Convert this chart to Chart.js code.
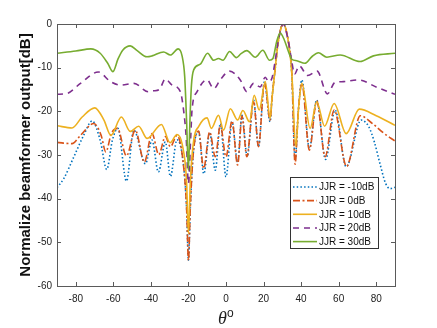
<!DOCTYPE html>
<html><head><meta charset="utf-8">
<script src="https://cdn.jsdelivr.net/npm/chart.js@4.4.1/dist/chart.umd.min.js"></script>
<style>html,body{margin:0;padding:0;background:#fff}</style>
</head><body>
<canvas id="c" width="437" height="328" style="width:437px;height:328px;display:block"></canvas>
<script>
// ---- data (theta in degrees, output in dB) ----
const labels = ['JJR = -10dB','JJR = 0dB','JJR = 10dB','JJR = 20dB','JJR = 30dB'];
const xTicks = [-80,-60,-40,-20,0,20,40,60,80];
const yTicks = [0,-10,-20,-30,-40,-50,-60];

const jjrM10 = [[-90,-37.5],[-86.4,-35.4],[-81,-30.4],[-75.7,-25.4],[-71.3,-22.2],[-67,-26.6],[-63.5,-33.3],[-60.5,-26.6],[-57.6,-23.9],[-53,-36],[-49.1,-24.3],[-42.9,-32],[-39.4,-26.6],[-36,-33.9],[-32.3,-27],[-29.6,-34.9],[-26.1,-26.5],[-23,-31],[-21,-42],[-20,-54.1],[-19,-42],[-17.5,-30],[-14.6,-24.7],[-11.8,-34.3],[-8.7,-24.9],[-5.7,-33.5],[-3,-22.8],[0,-35],[3.2,-22.4],[6.2,-31.6],[8.5,-20.9],[11.3,-30.4],[14.7,-17.4],[17.3,-28.1],[20.5,-13.2],[23.5,-22.4],[24.5,-17],[26,-11],[28,-3.5],[30.5,0],[33,-3.5],[35,-11],[36.8,-31],[38.5,-20],[40.4,-12.8],[44.4,-28.5],[48.3,-17.4],[53,-31],[58.1,-19.7],[64,-32.7],[72,-22],[76,-23.5],[79,-27],[82,-32],[85,-36.5],[87.5,-37.7],[90,-37.4]];
const jjr0 = [[-90,-27.1],[-82,-27.4],[-77.5,-25.5],[-70.4,-22.8],[-66.5,-25.5],[-64,-29.3],[-61,-25],[-57.8,-23.9],[-53,-30.2],[-48.3,-24.3],[-43.5,-31.6],[-39.4,-25.1],[-35.8,-29.9],[-32.3,-25.8],[-29.6,-28.1],[-26.1,-25.5],[-23,-31],[-21,-42],[-20,-54.1],[-19,-42],[-17.5,-30],[-14.6,-24.5],[-11.9,-33.1],[-8.7,-24.7],[-5.7,-30.4],[-3,-23.2],[0,-30.4],[3.2,-22.2],[6.2,-32.3],[8.5,-21.1],[11.1,-30.4],[14.7,-17.8],[17.3,-28.1],[20.5,-13.5],[23.5,-22],[24.5,-17],[26,-11],[28,-3.5],[30.5,0],[33,-3.5],[35,-11],[36.8,-32.1],[38.5,-20],[40.4,-13.6],[44.4,-28.9],[48.3,-17.6],[52.8,-30.4],[57.6,-19.7],[64.2,-32.6],[71.5,-21],[78,-22.8],[84,-25],[90,-26.8]];
const jjr10 = [[-90,-23.3],[-82,-23.8],[-76.6,-21.3],[-69.9,-19.2],[-65,-22],[-61.3,-25.5],[-55.7,-21.3],[-51,-24.6],[-46.5,-23.4],[-42,-26.2],[-34.4,-23],[-29.8,-27.2],[-26.1,-25.3],[-23.2,-27.8],[-21,-36],[-20,-48],[-19,-36],[-17.2,-26.6],[-14.6,-23.5],[-10.1,-21.5],[-7.8,-23.9],[-4,-20.9],[-1.3,-24.3],[2.3,-19.4],[6.2,-22],[9,-19.8],[12.5,-22.4],[15,-16.3],[17.7,-19.7],[20.9,-13.2],[23.5,-21.6],[24.5,-17],[26,-11],[28,-3.5],[30.5,0],[33,-3.5],[35,-11],[37.2,-28],[38.7,-19],[40.4,-13.6],[44.8,-23.9],[48.3,-17.8],[52.5,-23.4],[57.6,-18.2],[64,-25.1],[71,-19.5],[80,-21],[90,-23.2]];
const jjr20 = [[-90,-16.1],[-84.6,-15.9],[-77.5,-13.6],[-68,-11],[-61.5,-13.2],[-56.2,-14],[-49,-13.6],[-41.5,-15.5],[-38.5,-15.3],[-35.5,-15],[-32.3,-12.6],[-28.7,-14],[-24.3,-15.5],[-22.6,-19.7],[-21.2,-26],[-20,-36.5],[-18.8,-26],[-18.1,-19.7],[-15.4,-15.5],[-10.1,-12.8],[-6.5,-14.8],[-3.1,-12.8],[1.9,-10.8],[7.6,-12.8],[11.1,-15.5],[14.7,-13.6],[18.2,-14.4],[20.9,-12.2],[22.6,-13.2],[24.4,-12.5],[26,-9],[28,-3.5],[30.5,0],[33,-3.5],[35,-8.5],[36.5,-11.5],[39,-9.6],[43.5,-11.8],[48.5,-10.8],[54,-16],[58,-13.4],[62.5,-13.2],[70.5,-12.8],[80.3,-14.5],[90,-16.1]];
const jjr30 = [[-90,-6.7],[-80,-6.2],[-72,-5.7],[-67,-6.7],[-63,-9],[-60.2,-10.9],[-57.5,-8],[-55,-6],[-51,-5],[-47.3,-6.1],[-42.1,-7.5],[-39.4,-7.3],[-33.2,-6.4],[-29.6,-7.1],[-25.5,-5.7],[-23.4,-7.3],[-22,-12],[-21,-22],[-20,-33.5],[-19.2,-22],[-18.4,-14],[-17.2,-10.5],[-13.7,-9.2],[-9.8,-6.7],[-6.6,-8.3],[-4,-7.9],[-1.6,-8.3],[1.9,-6.3],[5.5,-7.7],[8,-6.8],[11.1,-6.1],[15.6,-7.6],[19.6,-6],[23.2,-8.3],[25,-7.9],[27,-4],[28.9,-2.1],[31,-3.6],[33,-6],[35.1,-8.1],[37.7,-8.4],[42,-9],[45.7,-7.5],[49.2,-6.6],[53.7,-7.6],[60.8,-7.1],[71.4,-8.6],[78.5,-7.3],[90,-6.7]];

const series = [jjrM10, jjr0, jjr10, jjr20, jjr30];
const colors = ['#0072BD','#D95319','#EDB120','#7E2F8E','#77AC30'];
const dashes = [[1.5,2.2],[7,2.5,2,2.5],[],[6,5],[]];

const toPts = s => s.map(p => ({x:p[0], y:p[1]}));

const framePlugin = {
  id:'frame',
  afterDatasetsDraw(chart){
    const ctx = chart.ctx, a = chart.chartArea;
    const xs = chart.scales.x, ys = chart.scales.y;
    ctx.save();
    ctx.strokeStyle = '#5a5a5a'; ctx.lineWidth = 1; ctx.setLineDash([]);
    ctx.strokeRect(Math.round(a.left)+0.5, Math.round(a.top)+0.5, Math.round(a.right-a.left), Math.round(a.bottom-a.top));
    ctx.beginPath();
    xTicks.forEach(v=>{ const px = Math.round(xs.getPixelForValue(v))+0.5;
      ctx.moveTo(px,a.bottom); ctx.lineTo(px,a.bottom-4);
      ctx.moveTo(px,a.top); ctx.lineTo(px,a.top+4); });
    yTicks.forEach(v=>{ const py = Math.round(ys.getPixelForValue(v))+0.5;
      ctx.moveTo(a.left,py); ctx.lineTo(a.left+4,py);
      ctx.moveTo(a.right,py); ctx.lineTo(a.right-4,py); });
    ctx.stroke();
    ctx.restore();
  },
  afterDraw(chart){
    const ctx = chart.ctx, a = chart.chartArea;
    ctx.save();
    // legend box
    const bx = a.right-105, by = a.top+153, bw = 88, bh = 71;
    ctx.fillStyle='#fff'; ctx.fillRect(bx,by,bw,bh);
    ctx.strokeStyle='#333'; ctx.lineWidth=1; ctx.strokeRect(bx+0.5,by+0.5,bw,bh);
    ctx.font='10px "Liberation Sans", Arial, sans-serif';
    ctx.textBaseline='middle'; ctx.textAlign='left';
    labels.forEach((t,i)=>{
      const y = by+10+i*13.65;
      ctx.strokeStyle=colors[i]; ctx.lineWidth=1.6; ctx.setLineDash(dashes[i]);
      ctx.beginPath(); ctx.moveTo(bx+3,y); ctx.lineTo(bx+27,y); ctx.stroke();
      ctx.setLineDash([]);
      ctx.fillStyle='#111'; ctx.fillText(t,bx+29,y+0.5);
    });
    // x-axis title: theta with superscript o
    const cx = (a.left+a.right)/2;
    ctx.fillStyle='#222'; ctx.textBaseline='alphabetic';
    ctx.font='italic 18px "Liberation Serif", "DejaVu Serif", serif';
    ctx.fillText('θ', cx-8, 324);
    ctx.font='12px "Liberation Sans", Arial, sans-serif';
    ctx.fillText('o', cx+1, 317);
    ctx.restore();
  }
};

new Chart(document.getElementById('c'), {
  type:'line',
  data:{ datasets: series.map((s,i)=>({
    label: labels[i], data: toPts(s), borderColor: colors[i], backgroundColor: colors[i],
    borderDash: dashes[i], borderWidth: 1.6, pointRadius: 0, fill: false,
    cubicInterpolationMode: 'monotone', order: 5-i
  }))},
  options:{
    responsive:false, animation:false, devicePixelRatio:1,
    layout:{ padding:{ top:24, right:42, left:0, bottom:0 } },
    plugins:{ legend:{display:false}, tooltip:{enabled:false} },
    scales:{
      x:{ type:'linear', min:-90, max:90,
        afterBuildTicks: s => { s.ticks = xTicks.map(v=>({value:v})); },
        afterFit: s => { s.height = 42; },
        grid:{ display:false, drawTicks:false }, border:{display:false},
        ticks:{ padding:7, color:'#222', font:{ family:'"Liberation Sans", Arial, sans-serif', size:10 }, callback: v => String(v), maxRotation:0, autoSkip:false }
      },
      y:{ type:'linear', min:-60, max:0,
        afterBuildTicks: s => { s.ticks = yTicks.map(v=>({value:v})); },
        afterFit: s => { s.width = 57; },
        grid:{ display:false, drawTicks:false }, border:{display:false},
        ticks:{ padding:5, color:'#222', font:{ family:'"Liberation Sans", Arial, sans-serif', size:10 }, callback: v => String(v), autoSkip:false },
        title:{ display:true, text:'Normalize beamformer output[dB]', color:'#111',
          font:{ family:'"Liberation Sans", Arial, sans-serif', size:15, weight:'bold' }, padding:{top:17, bottom:0} }
      }
    }
  },
  plugins:[framePlugin]
});
</script>
</body></html>
